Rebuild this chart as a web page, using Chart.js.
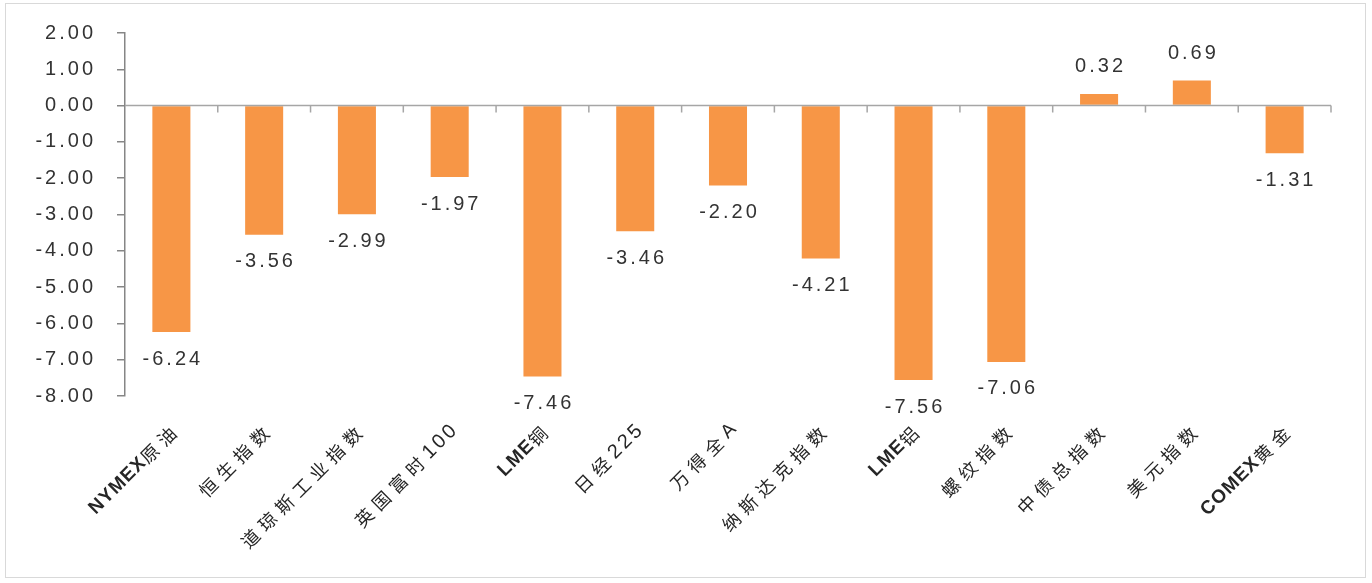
<!DOCTYPE html>
<html><head><meta charset="utf-8">
<script src="https://cdn.jsdelivr.net/npm/chart.js@4.4.1/dist/chart.umd.min.js"></script>
<style>
html,body{margin:0;padding:0;background:#fff;}
#wrap{position:relative;width:1372px;height:583px;}
#frame{position:absolute;left:5px;top:3px;width:1359px;height:573px;border:1px solid #d9d9d9;pointer-events:none;}
canvas{position:absolute;left:0;top:0;}
</style></head>
<body>
<div id="wrap"><canvas id="c" width="1372" height="583"></canvas><div id="frame"></div></div>
<script>
const categories = ["NYMEX原油","恒生指数","道琼斯工业指数","英国富时100","LME铜","日经225","万得全A","纳斯达克指数","LME铝","螺纹指数","中债总指数","美元指数","COMEX黄金"];
const values = [-6.24,-3.56,-2.99,-1.97,-7.46,-3.46,-2.20,-4.21,-7.56,-7.06,0.32,0.69,-1.31];
const yTicks = [2,1,0,-1,-2,-3,-4,-5,-6,-7,-8];

const spacing = {
  id:'spacing',
  beforeDraw(chart){ chart.ctx.letterSpacing = '3px'; },
  afterDraw(chart){ chart.ctx.letterSpacing = '0px'; }
};

const zeroLine = {
  id:'zeroLine',
  afterDatasetsDraw(chart){
    const {ctx, scales:{x,y}, chartArea} = chart;
    const y0 = y.getPixelForValue(0);
    ctx.save();
    ctx.strokeStyle = '#a6a6a6';
    ctx.lineWidth = 1.5;
    ctx.beginPath();
    ctx.moveTo(chartArea.left, y0);
    ctx.lineTo(chartArea.right, y0);
    const n = categories.length;
    for (let i = 1; i <= n; i++) {
      const bx = i < n ? (x.getPixelForValue(i-1) + x.getPixelForValue(i)) / 2 : chartArea.right;
      ctx.moveTo(bx, y0);
      ctx.lineTo(bx, y0 + 7);
    }
    ctx.stroke();
    ctx.restore();
  }
};

function runStyle(ch, label){
  if (/[A-Z]/.test(ch) && /^[A-Z]{3,}/.test(label)) return {font:'bold 19px "Liberation Sans", Arial, sans-serif', sp:1};
  if (/[A-Z]/.test(ch)) return {font:'19px "Liberation Sans", Arial, sans-serif', sp:1};
  if (/[0-9]/.test(ch)) return {font:'20px "Liberation Sans", Arial, sans-serif', sp:3};
  return {font:'18px "Noto Sans CJK SC", sans-serif', sp:6};
}

const xLabels = {
  id:'xLabels',
  afterDraw(chart){
    const {ctx, scales:{x}, chartArea} = chart;
    ctx.save();
    ctx.fillStyle = '#262626';
    ctx.textAlign = 'left';
    ctx.textBaseline = 'middle';
    ctx.letterSpacing = '0px';
    categories.forEach((c, i) => {
      const chars = Array.from(c);
      const widths = chars.map(ch => { const s = runStyle(ch, c); ctx.font = s.font; return ctx.measureText(ch).width + s.sp; });
      const total = widths.reduce((a,b)=>a+b,0);
      ctx.save();
      ctx.translate(x.getPixelForValue(i) + 6, chartArea.bottom + 30);
      ctx.rotate(-Math.PI/4);
      let pos = -total;
      chars.forEach((ch, k) => {
        ctx.font = runStyle(ch, c).font;
        ctx.fillText(ch, pos, 0);
        pos += widths[k];
      });
      ctx.restore();
    });
    ctx.restore();
  }
};

const dataLabels = {
  id:'dataLabels',
  afterDatasetsDraw(chart){
    const {ctx} = chart;
    const meta = chart.getDatasetMeta(0);
    ctx.save();
    ctx.letterSpacing = '3px';
    ctx.font = '20px "Liberation Sans", Arial, sans-serif';
    ctx.fillStyle = '#333333';
    ctx.textAlign = 'center';
    ctx.textBaseline = 'middle';
    meta.data.forEach((bar, i) => {
      const v = values[i];
      const ty = v < 0 ? bar.y + 27 : bar.y - 27;
      ctx.fillText(v.toFixed(2), bar.x + 1.5, ty);
    });
    ctx.restore();
  }
};

new Chart(document.getElementById('c'), {
  type:'bar',
  data:{
    labels:categories,
    datasets:[{data:values, backgroundColor:'#F79646', borderWidth:0, barPercentage:0.41, categoryPercentage:1}]
  },
  options:{
    responsive:false,
    animation:false,
    events:[],
    layout:{padding:{top:26,right:41,left:0,bottom:0}},
    plugins:{legend:{display:false},tooltip:{enabled:false}},
    scales:{
      x:{
        grid:{display:false},
        border:{display:false},
        ticks:{display:false},
        afterFit(s){ s.height = 187; }
      },
      y:{
        min:-8, max:2,
        afterBuildTicks(s){ s.ticks = yTicks.map(v => ({value:v})); },
        grid:{drawOnChartArea:false, drawTicks:true, tickLength:8, color:'#868686', lineWidth:1.5},
        border:{display:true, color:'#868686', width:1.5},
        ticks:{
          color:'#333',
          font:{family:'"Liberation Sans", Arial, sans-serif', size:20},
          padding:21,
          callback:(v)=>Number(v).toFixed(2)
        },
        afterFit(s){ s.width = 125; }
      }
    }
  },
  plugins:[spacing, zeroLine, xLabels, dataLabels]
});
</script>
</body></html>
